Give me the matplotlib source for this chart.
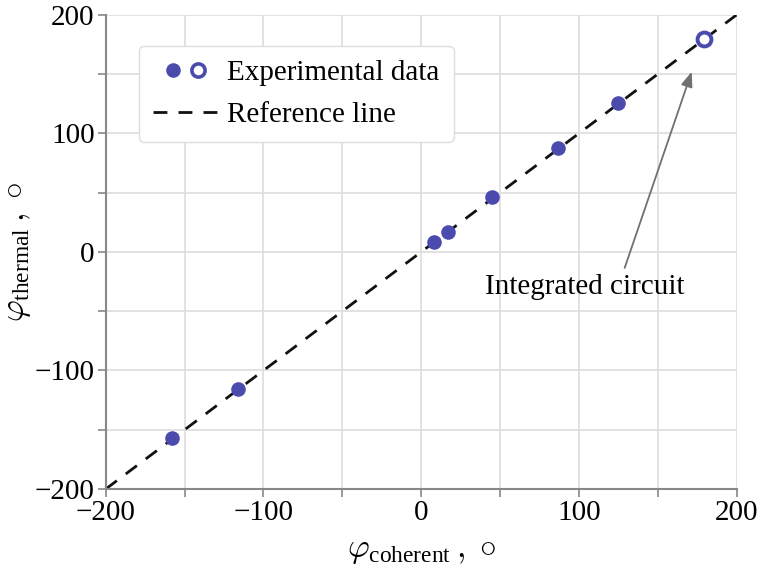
import numpy as np
import matplotlib
matplotlib.use("Agg")
import matplotlib.pyplot as plt
from matplotlib.legend_handler import HandlerTuple
from matplotlib.lines import Line2D
from matplotlib.ticker import MultipleLocator

# data
phi_coherent = [-158, -116, 8, 17, 45, 87, 125]
phi_thermal = [-157, -116, 8, 17, 46, 88, 126]
ic_coherent = [179]
ic_thermal = [180]
ref_line = [-200, 200]

plt.rcParams["font.family"] = ["Liberation Serif", "DejaVu Serif"]
plt.rcParams["mathtext.fontset"] = "cm"

blue = "#4B4BAE"
grid_c = "#dddddd"
axis_c = "#888888"
fs = 21

fig = plt.figure(figsize=(7.61, 5.71), dpi=100)
ax = fig.add_axes([0.139, 0.1436, 0.829, 0.8304])

ax.set_xlim(-200, 200)
ax.set_ylim(-200, 200)

ax.xaxis.set_major_locator(MultipleLocator(100))
ax.yaxis.set_major_locator(MultipleLocator(100))
ax.xaxis.set_minor_locator(MultipleLocator(50))
ax.yaxis.set_minor_locator(MultipleLocator(50))
ax.grid(True, which="both", color=grid_c, linewidth=1.2, zorder=0)
ax.set_axisbelow(True)

for s in ["top", "right"]:
    ax.spines[s].set_visible(False)
for s in ["left", "bottom"]:
    ax.spines[s].set_color(axis_c)
    ax.spines[s].set_linewidth(1.5)
ax.tick_params(which="both", direction="out", color=axis_c, width=1.2,
               labelsize=fs, length=6, pad=2)

# reference line
ax.plot(ref_line, ref_line, color="#111111", linestyle=(0, (5, 4)), linewidth=2, zorder=2)

ax.plot(phi_coherent, phi_thermal, "o", color=blue, markersize=10.5, zorder=3,
        markeredgewidth=0)
ax.plot(ic_coherent, ic_thermal, "o", markerfacecolor="white", markeredgecolor=blue,
        markersize=10, markeredgewidth=2.8, zorder=3, clip_on=False)

# annotation: text and arrow drawn separately
ax.text(104, -30, "Integrated circuit", ha="center", va="center", fontsize=fs)
ax.annotate("", xy=(171.5, 152), xytext=(129, -13.5),
            arrowprops=dict(arrowstyle="-|>,head_length=0.9,head_width=0.35",
                            color="#707070", lw=1.3, shrinkA=0, shrinkB=0))

ax.set_xlabel(r"$\varphi_{\mathdefault{coherent}}\,,\;{\circ}$", fontsize=24, labelpad=7)
ax.set_ylabel(r"$\varphi_{\mathdefault{thermal}}\,,\;{\circ}$", fontsize=24, labelpad=1)

filled = Line2D([], [], marker="o", linestyle="none", color=blue, markersize=10.5,
                markeredgewidth=0)
hollow = Line2D([], [], marker="o", linestyle="none", markerfacecolor="white",
                markeredgecolor=blue, markersize=9.5, markeredgewidth=2.6)
dash = Line2D([], [], color="#111111", linestyle=(0, (5, 4)), linewidth=2)
leg = ax.legend([(filled, hollow), dash], ["Experimental data", "Reference line"],
                handler_map={tuple: HandlerTuple(ndivide=None, pad=-0.55)},
                loc="upper left", bbox_to_anchor=(0.052, 0.935), fontsize=fs,
                frameon=True, fancybox=True, edgecolor="#dddddd", framealpha=1,
                handlelength=2.26, handletextpad=0.3, borderpad=0.48,
                labelspacing=0.54, borderaxespad=0)

fig.savefig("out.png", dpi=100)
